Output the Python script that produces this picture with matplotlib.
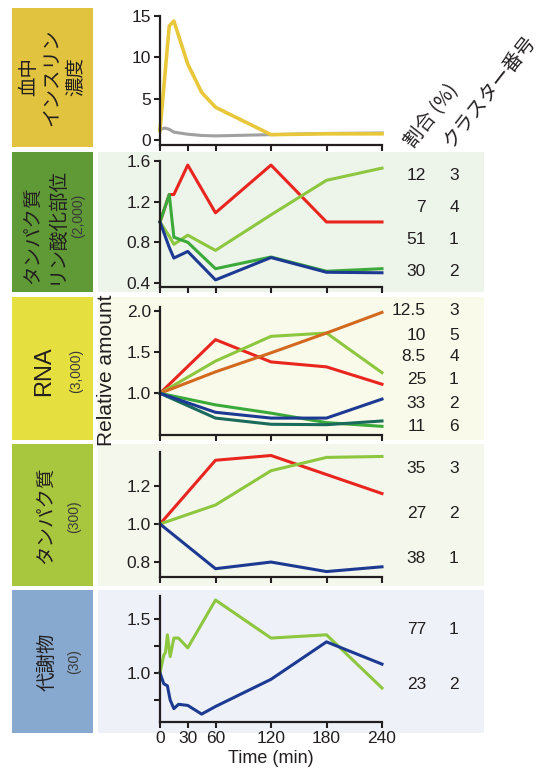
import matplotlib
matplotlib.use("Agg")
import matplotlib.pyplot as plt
from matplotlib.patches import Rectangle

plt.rcParams['font.family'] = ['Liberation Sans', 'Noto Sans CJK JP', 'DejaVu Sans']
JP = ['Noto Sans CJK JP', 'Liberation Sans']
TXT = '#231F20'

# ---------------- data ----------------
t_ins = [0, 10, 15, 30, 45, 60, 120, 180, 240]
ins_high = [1.2, 13.8, 14.4, 9.2, 5.8, 4.0, 0.7, 0.8, 0.8]
t_ins2 = [0, 5, 10, 15, 30, 45, 60, 120, 180, 240]
ins_low = [1.3, 1.5, 1.35, 1.0, 0.75, 0.6, 0.55, 0.7, 0.85, 0.9]

t_phos = [0, 10, 15, 30, 60, 120, 180, 240]
phos_c3 = [1.0, 1.27, 1.27, 1.56, 1.09, 1.56, 1.0, 1.0]
phos_c4 = [1.0, 0.86, 0.78, 0.87, 0.72, 1.07, 1.41, 1.53]
phos_c1 = [1.0, 1.27, 0.85, 0.80, 0.54, 0.655, 0.515, 0.54]
phos_c2 = [1.0, 0.75, 0.645, 0.71, 0.43, 0.65, 0.505, 0.50]
phos_pct = ['12', '7', '51', '30']
phos_cl = ['3', '4', '1', '2']

t_rna = [0, 60, 120, 180, 240]
rna_red = [1.0, 1.65, 1.38, 1.32, 1.11]
rna_lg = [1.0, 1.39, 1.69, 1.73, 1.25]
rna_orange = [1.0, 1.26, 1.49, 1.73, 1.98]
rna_green = [1.0, 0.86, 0.76, 0.645, 0.60]
rna_blue = [1.0, 0.77, 0.70, 0.70, 0.93]
rna_teal = [1.0, 0.70, 0.625, 0.62, 0.665]
rna_pct = ['12.5', '10', '8.5', '25', '33', '11']
rna_cl = ['3', '5', '4', '1', '2', '6']

t_prot = [0, 60, 120, 180, 240]
prot_red = [1.0, 1.335, 1.36, 1.26, 1.16]
prot_lg = [1.0, 1.10, 1.28, 1.35, 1.355]
prot_blue = [1.0, 0.765, 0.80, 0.75, 0.775]
prot_pct = ['35', '27', '38']
prot_cl = ['3', '2', '1']

t_met = [0, 4, 6, 8, 11, 15, 20, 30, 45, 60, 120, 180, 240]
met_lg = [1.0, 1.16, 1.19, 1.35, 1.15, 1.32, 1.32, 1.23, 1.45, 1.67, 1.32, 1.35, 0.86]
met_blue = [1.0, 0.90, 0.89, 0.88, 0.75, 0.67, 0.71, 0.70, 0.62, 0.69, 0.94, 1.285, 1.08]
met_pct = ['77', '23']
met_cl = ['1', '2']

xticks_full = [0, 30, 60, 120, 180, 240]
xticks_coarse = [0, 60, 120, 180, 240]

# ---------------- colours ----------------
C_RED = '#E8251E'
C_LG = '#8DC63F'
C_GREEN = '#3BAA3A'
C_BLUE = '#1D3A93'
C_ORANGE = '#D2691E'
C_TEAL = '#1A6B5C'
C_GOLD = '#E8C83A'
C_GRAY = '#A0A0A0'

W, H = 545, 776
fig = plt.figure(figsize=(W / 100, H / 100), dpi=100)


def fx(x):
    return x / W


def fy(y):
    return 1 - y / H


def rect(x0, y0, x1, y1, color):
    fig.patches.append(Rectangle((fx(x0), fy(y1)), (x1 - x0) / W, (y1 - y0) / H,
                                 transform=fig.transFigure, facecolor=color,
                                 edgecolor='none', zorder=-10))


# label boxes (px): y0, y1, box colour, panel bg
panels = [
    (8, 147, '#E1C33F', None),
    (152, 292, '#5F9A36', '#EDF4EA'),
    (297, 440, '#E5E03F', '#FAFAEA'),
    (444, 586, '#A9C63F', '#F4F7EB'),
    (590, 733, '#87A9CF', '#EEF2F8'),
]
for y0, y1, bc, bg in panels:
    rect(12, y0, 93, y1, bc)
    if bg:
        rect(98, y0, 484, y1, bg)

AX_L, AX_R = 160, 382


def make_ax(top, bottom, ylim, yticks, ylabels, xticks, xlabels=False):
    ax = fig.add_axes([fx(AX_L), fy(bottom), (AX_R - AX_L) / W, (bottom - top) / H])
    ax.set_facecolor('none')
    ax.set_zorder(1)
    ax.set_xlim(0, 240)
    ax.set_ylim(*ylim)
    for s in ['top', 'right']:
        ax.spines[s].set_visible(False)
    for s in ['left', 'bottom']:
        ax.spines[s].set_linewidth(1.6)
        ax.spines[s].set_color(TXT)
    ax.set_yticks(yticks)
    ax.set_yticklabels(ylabels)
    ax.set_xticks(xticks)
    if xlabels:
        ax.set_xticklabels([str(v) for v in xticks])
    else:
        ax.set_xticklabels([])
    ax.tick_params(direction='out', length=4.5, width=1.5, color=TXT,
                   labelsize=12.5, labelcolor=TXT, pad=2)
    return ax


LW = 2.2

# panel 1: insulin
ax1 = make_ax(16, 144.6, (-0.5, 15), [0, 5, 10, 15], ['0', '5', '10', '15'], xticks_full)
ax1.plot(t_ins2, ins_low, color=C_GRAY, lw=LW, clip_on=False)
ax1.plot(t_ins, ins_high, color=C_GOLD, lw=LW + 0.4, clip_on=False)

# panel 2: phospho
ax2 = make_ax(161, 287, (0.36, 1.6), [0.4, 0.8, 1.2, 1.6], ['0.4', '0.8', '1.2', '1.6'], xticks_full)
ax2.plot(t_phos, phos_c3, color=C_RED, lw=LW, clip_on=False)
ax2.plot(t_phos, phos_c4, color=C_LG, lw=LW, clip_on=False)
ax2.plot(t_phos, phos_c1, color=C_GREEN, lw=LW, clip_on=False)
ax2.plot(t_phos, phos_c2, color=C_BLUE, lw=LW, clip_on=False)

# panel 3: RNA
ax3 = make_ax(306.6, 434.6, (0.5, 2.05), [1.0, 1.5, 2.0], ['1.0', '1.5', '2.0'], xticks_coarse)
ax3.plot(t_rna, rna_red, color=C_RED, lw=LW, clip_on=False)
ax3.plot(t_rna, rna_lg, color=C_LG, lw=LW, clip_on=False)
ax3.plot(t_rna, rna_orange, color=C_ORANGE, lw=LW, clip_on=False)
ax3.plot(t_rna, rna_green, color=C_GREEN, lw=LW, clip_on=False)
ax3.plot(t_rna, rna_teal, color=C_TEAL, lw=LW, clip_on=False)
ax3.plot(t_rna, rna_blue, color=C_BLUE, lw=LW, clip_on=False)

# panel 4: protein
ax4 = make_ax(451.7, 576.7, (0.723, 1.38), [0.8, 1.0, 1.2], ['0.8', '1.0', '1.2'], xticks_coarse)
ax4.plot(t_prot, prot_red, color=C_RED, lw=LW, clip_on=False)
ax4.plot(t_prot, prot_lg, color=C_LG, lw=LW, clip_on=False)
ax4.plot(t_prot, prot_blue, color=C_BLUE, lw=LW, clip_on=False)

# panel 5: metabolites
ax5 = make_ax(595.7, 721.7, (0.55, 1.71), [0.75, 1.0, 1.25, 1.5], ['', '1.0', '', '1.5'],
              xticks_full, xlabels=True)
ax5.plot(t_met, met_lg, color=C_LG, lw=LW, clip_on=False)
ax5.plot(t_met, met_blue, color=C_BLUE, lw=LW, clip_on=False)
ax5.set_xlabel('Time (min)', fontsize=13, color=TXT, labelpad=3)

# right-hand columns
def column(ys, pcts, cls):
    for y, p, c in zip(ys, pcts, cls):
        fig.text(fx(426), fy(y), p, ha='right', va='center', fontsize=12.5, color=TXT)
        fig.text(fx(454), fy(y), c, ha='center', va='center', fontsize=12.5, color=TXT)


column([175, 207.7, 239.3, 271], phos_pct, phos_cl)
column([310.7, 335, 356.7, 379.3, 403.3, 426], rna_pct, rna_cl)
column([468.3, 514, 558.3], prot_pct, prot_cl)
column([630, 684.3], met_pct, met_cl)

# rotated headers
fig.text(fx(432), fy(116), '割合 (%)', rotation=52, ha='center', va='center',
         fontsize=14, color=TXT, family=JP)
fig.text(fx(489), fy(92), 'クラスター番号', rotation=52, ha='center', va='center',
         fontsize=14, color=TXT, family=JP)

# y label
fig.text(fx(106), fy(370), 'Relative amount', rotation=90, ha='center', va='center',
         fontsize=15, color=TXT)

# box labels
fig.text(fx(52), fy(77), '血中\nインスリン\n濃度', rotation=90, ha='center', va='center',
         fontsize=14, color=TXT, family=JP, linespacing=1.15)
fig.text(fx(45), fy(225), 'タンパク質\nリン酸化部位', rotation=90, ha='center', va='center',
         fontsize=14, color=TXT, family=JP, linespacing=1.1, multialignment='left')
fig.text(fx(78), fy(216), '(2,000)', rotation=90, ha='center', va='center',
         fontsize=10, color='#3A3A3A')
fig.text(fx(44), fy(371), 'RNA', rotation=90, ha='center', va='center',
         fontsize=17, color=TXT)
fig.text(fx(76), fy(371), '(3,000)', rotation=90, ha='center', va='center',
         fontsize=10, color='#3A3A3A')
fig.text(fx(47), fy(515), 'タンパク質', rotation=90, ha='center', va='center',
         fontsize=14, color=TXT, family=JP)
fig.text(fx(74), fy(517), '(300)', rotation=90, ha='center', va='center',
         fontsize=10, color='#3A3A3A')
fig.text(fx(47), fy(662), '代謝物', rotation=90, ha='center', va='center',
         fontsize=14, color=TXT, family=JP)
fig.text(fx(74), fy(662), '(30)', rotation=90, ha='center', va='center',
         fontsize=10, color='#3A3A3A')

fig.savefig('out.png', dpi=100)
